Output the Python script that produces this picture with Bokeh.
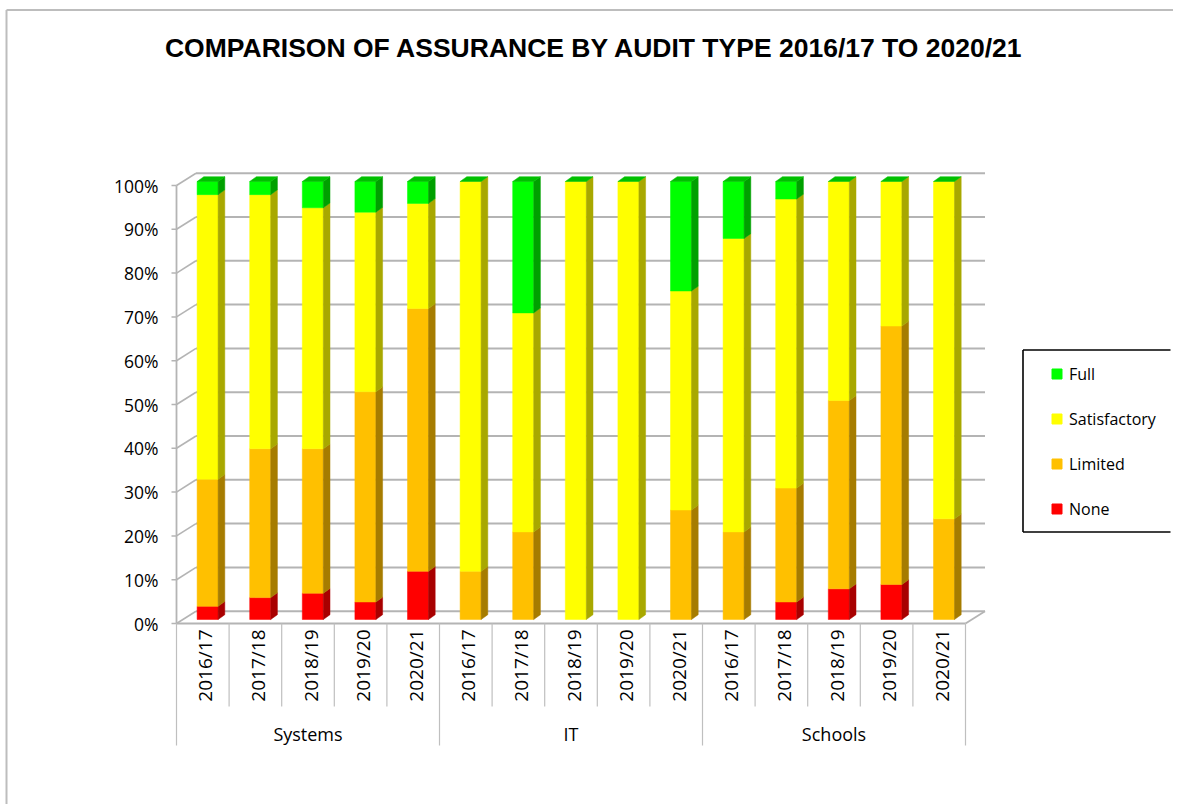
import numpy as np
from bokeh.plotting import figure
from bokeh.models import Range1d, ColumnDataSource, Legend, LegendItem
from bokeh.core.properties import value
from bokeh.embed import file_html
from bokeh.resources import INLINE

# ---------------- data ----------------
chart_title = "COMPARISON OF ASSURANCE BY AUDIT TYPE 2016/17 TO 2020/21"
audit_types = ["Systems", "IT", "Schools"]
years = ["2016/17", "2017/18", "2018/19", "2019/20", "2020/21"]
series_names = ["None", "Limited", "Satisfactory", "Full"]
none_pct = [3, 5, 6, 4, 11, 0, 0, 0, 0, 0, 0, 4, 7, 8, 0]
limited_pct = [29, 34, 33, 48, 60, 11, 20, 0, 0, 25, 20, 26, 43, 59, 23]
satisfactory_pct = [65, 58, 55, 41, 24, 89, 50, 100, 100, 50, 67, 66, 50, 33, 77]
full_pct = [3, 3, 6, 7, 5, 0, 30, 0, 0, 25, 13, 4, 0, 0, 0]
y_ticks = [0, 10, 20, 30, 40, 50, 60, 70, 80, 90, 100]
y_tick_labels = ["0%", "10%", "20%", "30%", "40%", "50%", "60%", "70%", "80%", "90%", "100%"]

# ---------------- style ----------------
front_colors = ["#FF0000", "#FFC000", "#FFFF00", "#00FF00"]
side_colors = ["#A80000", "#A67C00", "#A8A800", "#00A000"]
top_color = "#00C000"
grid_color = "#B4B4B4"
sep_color = "#BFBFBF"
FONT = "Open Sans"

W, H = 1173, 804
CAT_PX = 52.6      # width of one category slot (px)
PCT_PX = 4.38      # px per 1 %
X0_PX = 202.3      # x of first category centre (front plane)
Y0_PX = 623.0      # y of the 0 % front edge


def xd(px):
    return (px - X0_PX) / CAT_PX


def yd(py):
    return (Y0_PX - py) / PCT_PX


def ddx(px):
    return px / CAT_PX


def ddy(px):
    return px / PCT_PX


WALL_DX, WALL_DY = ddx(19.5), ddy(12.3)
BAR_OX, BAR_OY = ddx(4.8), ddy(4.0)
BAR_HALF = ddx(10.5)
SIDE_DX, SIDE_DY = ddx(6.7), ddy(4.8)

p = figure(width=W, height=H,
           x_range=Range1d(xd(0), xd(W)), y_range=Range1d(yd(H), yd(0)),
           x_axis_location=None, y_axis_location=None,
           output_backend="svg", toolbar_location=None, min_border=0)
p.grid.visible = False
p.outline_line_color = None
p.background_fill_color = "white"
p.border_fill_color = "white"

n_cat = len(audit_types) * len(years)
cat_x = np.arange(n_cat, dtype=float)
x_left, x_right = -0.5, n_cat - 0.5
ticks = np.array(y_ticks, dtype=float)

# ---------------- outer chart border ----------------
p.segment(x0=[xd(6), xd(6)], y0=[yd(9.5), yd(9.5)], x1=[xd(W), xd(6)], y1=[yd(9.5), yd(H)],
          line_color="#BDBDBD", line_width=2)

# ---------------- 3D walls / gridlines ----------------
p.segment(x0=[x_left + WALL_DX] * len(ticks), y0=ticks + WALL_DY,
          x1=[x_right + WALL_DX] * len(ticks), y1=ticks + WALL_DY,
          line_color=grid_color, line_width=2)
p.segment(x0=[x_left] * len(ticks), y0=ticks, x1=[x_left + WALL_DX] * len(ticks), y1=ticks + WALL_DY,
          line_color=grid_color, line_width=1.6)
p.segment(x0=[x_left, x_right, x_left], y0=[0, 0, 0],
          x1=[x_right, x_right + WALL_DX, x_left], y1=[0, WALL_DY, 100],
          line_color=grid_color, line_width=1.8)
p.segment(x0=[x_left - ddx(5)] * len(ticks), y0=ticks, x1=[x_left] * len(ticks), y1=ticks,
          line_color=grid_color, line_width=1.5)

# ---------------- bars ----------------
vals = np.array([none_pct, limited_pct, satisfactory_pct, full_pct], dtype=float)
tops = np.cumsum(vals, axis=0)
bottoms = tops - vals
bl = cat_x + BAR_OX - BAR_HALF
br = cat_x + BAR_OX + BAR_HALF

# legend key markers (sit hidden behind the bar front faces)
key_renderers = {}
for k, name in enumerate(series_names):
    keep = vals[k] > 0
    mids = (bottoms[k] + tops[k]) / 2 + BAR_OY
    key_renderers[name] = p.scatter(x=(cat_x + BAR_OX)[keep], y=mids[keep], marker="square", size=8,
                                    fill_color=front_colors[k], line_color=front_colors[k])

for k, name in enumerate(series_names):
    keep = vals[k] > 0
    src = ColumnDataSource(dict(left=bl[keep], right=br[keep],
                                bottom=bottoms[k][keep] + BAR_OY, top=tops[k][keep] + BAR_OY))
    p.quad(left="left", right="right", bottom="bottom", top="top", source=src,
           fill_color=front_colors[k], line_color=front_colors[k], line_width=0.5)
    xs, ys = [], []
    for i in np.where(keep)[0]:
        r = br[i]
        b, t = bottoms[k][i] + BAR_OY, tops[k][i] + BAR_OY
        xs.append([r, r + SIDE_DX, r + SIDE_DX, r])
        ys.append([b, b + SIDE_DY, t + SIDE_DY, t])
    p.patches(xs, ys, fill_color=side_colors[k], line_color=side_colors[k], line_width=0.5)

# top faces
txs, tys = [], []
for i in range(n_cat):
    T = tops[-1][i] + BAR_OY
    txs.append([bl[i], br[i], br[i] + SIDE_DX, bl[i] + SIDE_DX])
    tys.append([T, T, T + SIDE_DY, T + SIDE_DY])
p.patches(txs, tys, fill_color=top_color, line_color=top_color, line_width=0.5)

# ---------------- y labels ----------------
p.text(x=[x_left - ddx(18)] * len(ticks), y=ticks, text=y_tick_labels,
       text_align="right", text_baseline="middle", text_font=value(FONT),
       text_font_size="17.5px", text_color="#000000")

# ---------------- category table ----------------
grp_bounds = [x_left + len(years) * g for g in range(len(audit_types) + 1)]
yr_bounds = [x_left + j for j in range(1, n_cat) if j % len(years) != 0]
p.segment(x0=grp_bounds, y0=[0] * len(grp_bounds), x1=grp_bounds, y1=[yd(745)] * len(grp_bounds),
          line_color=sep_color, line_width=1.2)
p.segment(x0=yr_bounds, y0=[0] * len(yr_bounds), x1=yr_bounds, y1=[yd(706)] * len(yr_bounds),
          line_color=sep_color, line_width=1.2)

year_labels = years * len(audit_types)
p.text(x=cat_x + ddx(2.5), y=[yd(629)] * n_cat, text=year_labels, angle=np.pi / 2,
       text_align="right", text_baseline="middle", text_font=value(FONT),
       text_font_size="19px", text_color="#000000")
grp_x = [len(years) * g + (len(years) - 1) / 2 for g in range(len(audit_types))]
p.text(x=grp_x, y=[yd(733)] * len(audit_types), text=audit_types,
       text_align="center", text_baseline="middle", text_font=value(FONT),
       text_font_size="18px", text_color="#000000")

# ---------------- title ----------------
p.text(x=[xd(594)], y=[yd(47)], text=[chart_title], text_align="center", text_baseline="middle",
       text_font=value("Liberation Sans"), text_font_style="bold", text_font_size="26.5px",
       text_color="#000000")

# ---------------- legend ----------------
leg_items = [LegendItem(label=name, renderers=[key_renderers[name]])
             for name in ["Full", "Satisfactory", "Limited", "None"]]
legend = Legend(items=leg_items, location=(1022, 272), margin=0, padding=11,
                glyph_width=25, glyph_height=25, label_height=25,
                label_standoff=0, spacing=20,
                title="\u00a0", title_location="left", title_text_font_size="1px", title_standoff=10,
                border_line_color="#FFFFFF", border_line_alpha=0.0,
                background_fill_color="white", background_fill_alpha=0.0,
                label_text_font=FONT, label_text_font_size="16px", label_text_color="#000000")
p.add_layout(legend)

# legend frame (open on the right, where the original is cut off)
p.segment(x0=[xd(1022.5), xd(1022.5), xd(1022.5)], y0=[yd(349.5), yd(531.5), yd(349.5)],
          x1=[xd(W - 3), xd(W - 3), xd(1022.5)], y1=[yd(349.5), yd(531.5), yd(531.5)],
          line_color="#000000", line_width=1.6, level="overlay")

open("out.html", "w").write(file_html(p, INLINE))
